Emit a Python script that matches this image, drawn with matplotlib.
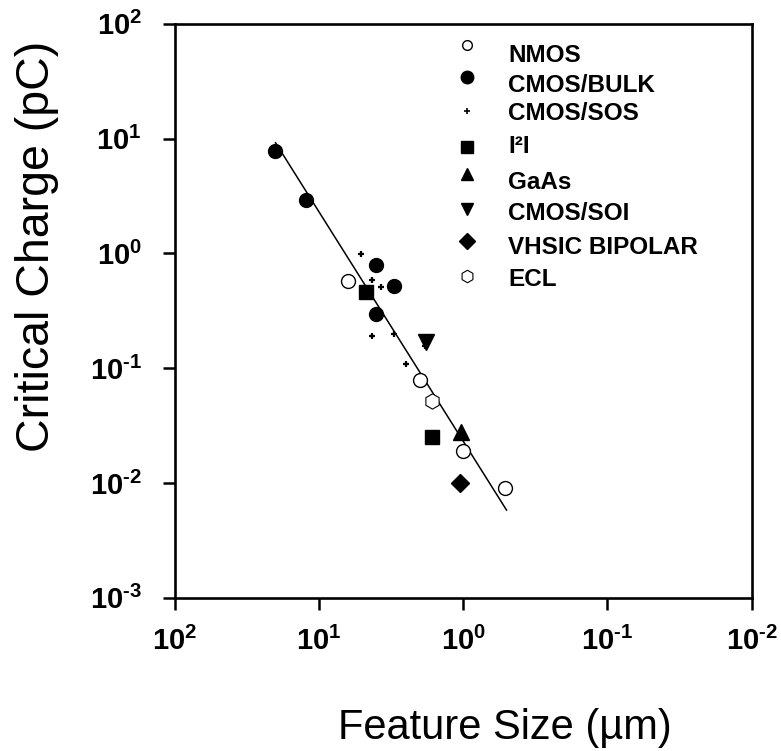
import numpy as np
import matplotlib
matplotlib.use("Agg")
import matplotlib.pyplot as plt

plt.rcParams['font.family'] = ['Liberation Sans', 'DejaVu Sans']
plt.rcParams['mathtext.fontset'] = 'custom'
plt.rcParams['mathtext.rm'] = 'Liberation Sans:bold'
plt.rcParams['mathtext.bf'] = 'Liberation Sans:bold'
plt.rcParams['mathtext.default'] = 'bf'

# ---- data (feature size in um, critical charge in pC) ----
nmos_x = [6.3, 2.0, 1.0, 0.51]
nmos_y = [0.575, 0.079, 0.019, 0.0091]
bulk_x = [20.0, 12.2, 4.0, 3.0, 4.0]
bulk_y = [7.8, 2.9, 0.79, 0.52, 0.295]
sos_x = [5.1, 4.3, 3.7, 4.3, 3.0, 2.5, 1.85]
sos_y = [0.99, 0.58, 0.51, 0.19, 0.20, 0.108, 0.155]
i2l_x = [4.7, 1.64]
i2l_y = [0.46, 0.025]
gaas_x = [1.03]
gaas_y = [0.028]
soi_x = [1.8]
soi_y = [0.17]
vhsic_x = [1.05]
vhsic_y = [0.0099]
ecl_x = [1.64]
ecl_y = [0.052]
fit_x = [20.0, 0.5]
fit_y = [9.2, 0.0058]

labels = ["NMOS", "CMOS/BULK", "CMOS/SOS", "I\u00b2I", "GaAs",
          "CMOS/SOI", "VHSIC BIPOLAR", "ECL"]
xticks = [1e2, 1e1, 1e0, 1e-1, 1e-2]
xtick_labels = [r'$10^{\text{2}}$', r'$10^{\text{1}}$', r'$10^{\text{0}}$',
                r'$10^{\text{-1}}$', r'$10^{\text{-2}}$']
yticks = [1e-3, 1e-2, 1e-1, 1e0, 1e1, 1e2]
ytick_labels = [r'$10^{\text{-3}}$', r'$10^{\text{-2}}$', r'$10^{\text{-1}}$',
                r'$10^{\text{0}}$', r'$10^{\text{1}}$', r'$10^{\text{2}}$']

W, H = 781, 751
fig = plt.figure(figsize=(W / 100, H / 100), dpi=100)
ax_l, ax_r, ax_t, ax_b = 174.7, 751.5, 23.7, 597.7
ax = fig.add_axes([ax_l / W, 1 - ax_b / H, (ax_r - ax_l) / W, (ax_b - ax_t) / H])

# (style, data) per series, same order as labels
series = [
    (dict(marker='o', ms=10, mfc='white', mec='black', mew=1.0), nmos_x, nmos_y),
    (dict(marker='o', ms=10, mfc='black', mec='black'), bulk_x, bulk_y),
    (dict(marker='+', ms=5, mec='black', mew=1.6), sos_x, sos_y),
    (dict(marker='s', ms=10, mfc='black', mec='black'), i2l_x, i2l_y),
    (dict(marker='^', ms=11, mfc='black', mec='black'), gaas_x, gaas_y),
    (dict(marker='v', ms=11, mfc='black', mec='black'), soi_x, soi_y),
    (dict(marker='D', ms=9, mfc='black', mec='black'), vhsic_x, vhsic_y),
    (dict(marker='h', ms=11, mfc='white', mec='black', mew=0.8), ecl_x, ecl_y),
]

ax.plot(fit_x, fit_y, color='black', lw=1.1, zorder=2)
for style, xs, ys in series:
    ax.plot(xs, ys, ls='none', zorder=3, **style)

ax.set_xscale('log')
ax.set_yscale('log')
ax.set_xlim(1e2, 1e-2)
ax.set_ylim(1e-3, 1e2)
ax.set_xticks(xticks, xtick_labels)
ax.set_yticks(yticks, ytick_labels)
ax.minorticks_off()
ax.tick_params(which='major', direction='out', length=8.6, width=1.8,
               labelsize=21)
ax.tick_params(axis='y', pad=15)
ax.tick_params(axis='x', pad=12)
for sp in ax.spines.values():
    sp.set_linewidth(1.9)

# hand-drawn legend (markers + bold text inside the axes)
leg_marker_y = [44.7, 77.3, 110.7, 147.3, 174.3, 209.3, 241.0, 275.7]
leg_text_y = [55.0, 85.3, 113.7, 146.7, 182.3, 213.3, 247.0, 280.0]
leg_ms = [7, 9, 4, 8, 8.5, 8.5, 8, 9]
for (style, _, _), lab, my, ty, ms in zip(series, labels, leg_marker_y, leg_text_y, leg_ms):
    st = dict(style)
    st['ms'] = ms
    if st['marker'] == '+':
        st['mew'] = 1.2
    ax.plot([(467 - ax_l) / (ax_r - ax_l)], [(ax_b - my) / (ax_b - ax_t)],
            ls='none', transform=ax.transAxes, clip_on=False, **st)
    ax.text((508 - ax_l) / (ax_r - ax_l), (ax_b - ty) / (ax_b - ax_t), lab,
            transform=ax.transAxes, fontsize=17.5, fontweight='bold',
            ha='left', va='center')

fig.text(37 / W, 1 - 246 / H, "Critical Charge (pC)", rotation=90,
         fontsize=33.5, ha='center', va='center')
fig.text(505 / W, 1 - 739 / H, "Feature Size (\u00b5m)", fontsize=30,
         ha='center', va='baseline')

fig.savefig("out.png", dpi=100)
